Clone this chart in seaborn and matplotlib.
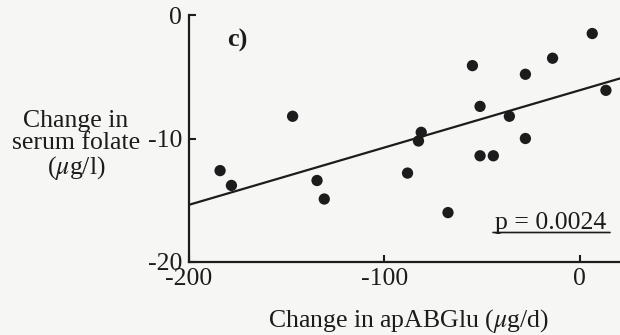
import matplotlib
matplotlib.use("Agg")
import matplotlib.pyplot as plt
import seaborn as sns
import pandas as pd

# Data
change_apabglu = [-184.1, -178.3, -147.0, -134.5, -130.8, -88.2, -82.6, -81.2, -67.5,
                  -55.0, -51.1, -51.1, -44.3, -36.1, -27.9, -27.9, -14.0, 6.3, 13.3]
change_folate = [-12.6, -13.8, -8.2, -13.4, -14.9, -12.8, -10.2, -9.5, -16.0,
                 -4.1, -7.4, -11.4, -11.4, -8.2, -4.8, -10.0, -3.5, -1.5, -6.1]
x_ticks = [-200, -100, 0]
y_ticks = [0, -10, -20]
p_text = "p = 0.0024"
panel_label = "c)"

df = pd.DataFrame({"x": change_apabglu, "y": change_folate})

sns.set_theme(style="ticks")
plt.rcParams["font.family"] = ["Liberation Serif", "DejaVu Serif"]
plt.rcParams["mathtext.fontset"] = "stix"

bg = "#f6f6f4"
ink = "#1c1c1c"
fs = 18.5
fig = plt.figure(figsize=(6.2, 3.35), dpi=100, facecolor=bg)
ax = fig.add_axes([189 / 620, 1 - 262 / 335, 1 - 189 / 620, (262 - 15) / 335])
ax.set_facecolor(bg)
ax.set_xlim(-200, 20.5)
ax.set_ylim(-20, 0)

sns.regplot(data=df, x="x", y="y", ax=ax, ci=None, truncate=False,
            scatter_kws=dict(s=66, color=ink, edgecolor="none", alpha=1),
            line_kws=dict(color=ink, lw=1.6))

ax.set_xlim(-200, 20.5)
ax.set_ylim(-20, 0)
ax.set_xticks(x_ticks)
ax.set_yticks(y_ticks)
ax.set_xticklabels([str(t) for t in x_ticks])
ax.set_yticklabels([str(t) for t in y_ticks])
ax.tick_params(direction="in", length=5, width=1.5, colors=ink, labelsize=fs)
ax.tick_params(axis="x", pad=4.5)
ax.tick_params(axis="y", pad=5)
for s in ["top", "right"]:
    ax.spines[s].set_visible(False)
for s in ["left", "bottom"]:
    ax.spines[s].set_linewidth(1.6)
    ax.spines[s].set_color(ink)
ax.set_xlabel("")
ax.set_ylabel("")

fig.text(409 / 620, 1 - 321 / 335, r"Change in apABGlu ($\mu$g/d)", ha="center", va="center",
         fontsize=fs, color=ink)
fig.text(76 / 620, 1 - 146 / 335, "Change in\nserum folate\n" + r"($\mu$g/l)", ha="center",
         va="center", fontsize=fs, color=ink, linespacing=1.02)
fig.text(237 / 620, 1 - 40 / 335, panel_label, ha="center", va="center", fontsize=19,
         fontweight="bold", color=ink)
fig.text(551 / 620, 1 - 229 / 335, p_text, ha="center", va="baseline", fontsize=fs, color=ink)
# underline for p value
ax.annotate("", xy=(610 / 620, 1 - 232.5 / 335), xytext=(493 / 620, 1 - 232.5 / 335),
            xycoords="figure fraction", textcoords="figure fraction",
            arrowprops=dict(arrowstyle="-", color=ink, lw=1.2, shrinkA=0, shrinkB=0))

fig.savefig("out.png", dpi=100, facecolor=bg)
